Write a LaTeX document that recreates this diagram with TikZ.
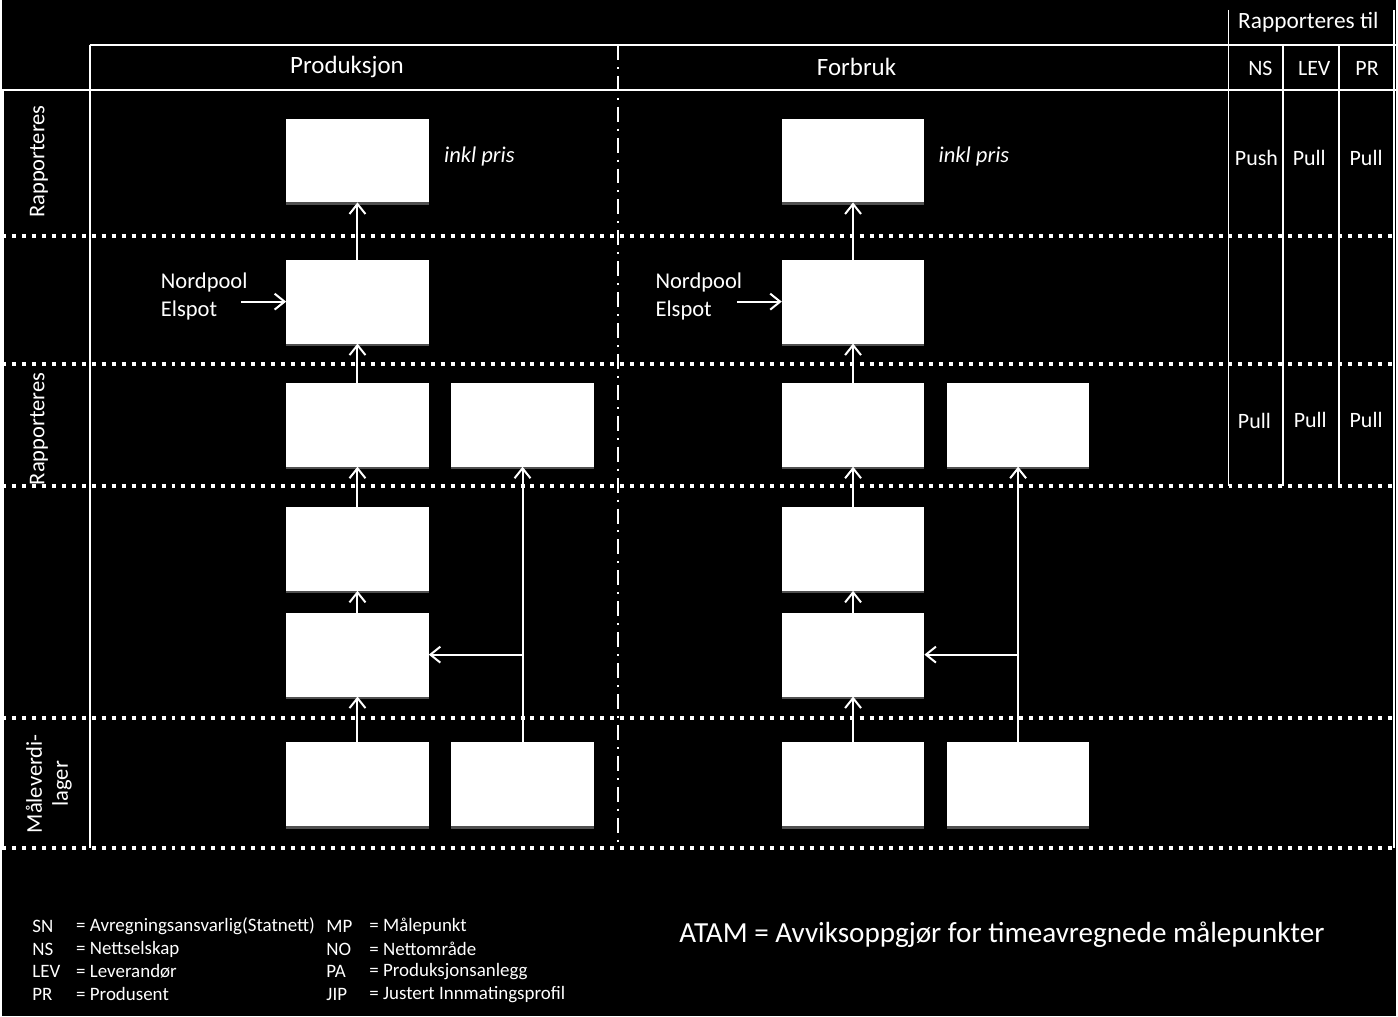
\documentclass[tikz,border=0pt]{standalone}
\usepackage{fontspec}
\setmainfont{Carlito}
\usetikzlibrary{arrows.meta,shadows}

\tikzset{
  boks/.style={fill=white, minimum width=71.5pt, minimum height=42pt, inner sep=0pt, outer sep=0pt,
    drop shadow={shadow xshift=0pt, shadow yshift=-1.2pt, fill=gray!60, opacity=0.45}},
  pil/.style={white, line width=1pt, -{Straight Barb[length=5pt,width=8pt,line width=1pt]}},
  linje/.style={white, line width=1pt},
  prikk/.style={white, line width=2pt, dash pattern=on 2pt off 3pt},
  strekpunkt/.style={white, line width=1pt, dash pattern=on 7.5pt off 3.5pt on 1pt off 3.5pt},
  hd/.style={text=white, inner sep=0pt, font=\fontsize{11.3}{13}\selectfont},
  tb/.style={text=white, inner sep=0pt, font=\fontsize{11}{13}\selectfont},
  lg/.style={text=white, inner sep=0pt, anchor=west, font=\fontsize{9.5}{11}\selectfont}
}

\begin{document}
\begin{tikzpicture}[x=0.5pt,y=-0.5pt]
\fill[black] (0,0) rectangle (1398,1019);

\draw[linje] (88,45) -- (1398,45);
\draw[linje] (0,90) -- (1398,90);
\draw[linje] (88,45) -- (88,850);
\draw[linje] (1,90) -- (1,850);
\draw[linje] (1396,10) -- (1396,850);
\draw[linje] (1230,10) -- (1230,487);
\draw[linje] (1285,45) -- (1285,487);
\draw[linje] (1341,45) -- (1341,487);
\draw[strekpunkt] (618,45) -- (618,850);

\draw[prikk] (0,237) -- (1398,237);
\draw[prikk] (0,365) -- (1398,365);
\draw[prikk] (0,487) -- (1398,487);
\draw[prikk] (0,720) -- (1398,720);
\draw[prikk] (0,850) -- (1398,850);

\node[hd, font=\fontsize{12.5}{15}\selectfont] (prod) at (346,67) {Produksjon};
\node[hd, font=\fontsize{12.5}{15}\selectfont] (forb) at (857,67) {Forbruk};
\node[hd, font=\fontsize{11.7}{14}\selectfont] (rtil) at (1310,22) {Rapporteres til};
\node[tb] (ns) at (1262,69) {NS};
\node[tb] (lev) at (1316,69) {LEV};
\node[tb] (pr) at (1369,69) {PR};
\node[tb] (push1) at (1258,158) {Push};
\node[tb] (pull1) at (1311,158) {Pull};
\node[tb] (pull2) at (1368,158) {Pull};
\node[tb] (pull3) at (1256,422) {Pull};
\node[tb] (pull4) at (1312,421) {Pull};
\node[tb] (pull5) at (1368,421) {Pull};

\node[hd, rotate=90] (rap1) at (37,162) {Rapporteres};
\node[hd, rotate=90] (rap2) at (37,430) {Rapporteres};
\node[hd, rotate=90, align=center] (mlag) at (47,786) {Måleverdi-\\lager};

\node[boks] (pa1) at (356.5,161) {};
\node[boks] (pa2) at (356.5,302.5) {};
\node[boks] (pa3) at (356.5,426) {};
\node[boks] (pb3) at (522,426) {};
\node[boks] (pa4) at (356.5,550.5) {};
\node[boks] (pa5) at (356.5,656.5) {};
\node[boks] (pa6) at (356.5,786.5) {};
\node[boks] (pb6) at (522,786.5) {};

\node[boks] (fa1) at (853.5,161) {};
\node[boks] (fa2) at (853.5,302.5) {};
\node[boks] (fa3) at (853.5,426) {};
\node[boks] (fb3) at (1019,426) {};
\node[boks] (fa4) at (853.5,550.5) {};
\node[boks] (fa5) at (853.5,656.5) {};
\node[boks] (fa6) at (853.5,786.5) {};
\node[boks] (fb6) at (1019,786.5) {};

\node[hd, anchor=west] (pinkl) at (443,157) {\itshape inkl pris};
\node[hd, anchor=west] (finkl) at (939,157) {\itshape inkl pris};
\node[hd, anchor=west, align=left, font=\fontsize{11.3}{14}\selectfont] (pnord) at (159,297) {Nordpool\\Elspot};
\node[hd, anchor=west, align=left, font=\fontsize{11.3}{14}\selectfont] (fnord) at (655,297) {Nordpool\\Elspot};

\coordinate (pinn) at (240,302.5);
\coordinate (finn) at (737,302.5);
\coordinate (pgren) at (pb6.north |- pa5.east);
\coordinate (fgren) at (fb6.north |- fa5.east);

\draw[pil] (pa2) -- (pa1);
\draw[pil] (pa3) -- (pa2);
\draw[pil] (pa4) -- (pa3);
\draw[pil] (pa5) -- (pa4);
\draw[pil] (pa6) -- (pa5);
\draw[pil] (pb6) -- (pb3);
\draw[pil] (pgren) -- (pa5);
\draw[pil] (pinn) -- (pa2);

\draw[pil] (fa2) -- (fa1);
\draw[pil] (fa3) -- (fa2);
\draw[pil] (fa4) -- (fa3);
\draw[pil] (fa5) -- (fa4);
\draw[pil] (fa6) -- (fa5);
\draw[pil] (fb6) -- (fb3);
\draw[pil] (fgren) -- (fa5);
\draw[pil] (finn) -- (fa2);

\node[lg] (sn) at (30,929) {SN};
\node[lg] (snt) at (74,929) {= Avregningsansvarlig(Statnett)};
\node[lg] (nsl) at (30,952) {NS};
\node[lg] (nst) at (74,952) {= Nettselskap};
\node[lg] (levl) at (30,974) {LEV};
\node[lg] (levt) at (74,974) {= Leverandør};
\node[lg] (prl) at (30,997) {PR};
\node[lg] (prt) at (74,997) {= Produsent};
\node[lg] (mp) at (325,929) {MP};
\node[lg] (mpt) at (368,929) {= Målepunkt};
\node[lg] (no) at (325,952) {NO};
\node[lg] (not) at (368,952) {= Nettområde};
\node[lg] (pa) at (325,974) {PA};
\node[lg] (pat) at (368,974) {= Produksjonsanlegg};
\node[lg] (jip) at (325,997) {JIP};
\node[lg] (jipt) at (368,997) {= Justert Innmatingsprofil};

\node[hd, anchor=west, font=\fontsize{14.6}{17}\selectfont] (atam) at (679,937) {ATAM = Avviksoppgjør for timeavregnede målepunkter};
\end{tikzpicture}
\end{document}
